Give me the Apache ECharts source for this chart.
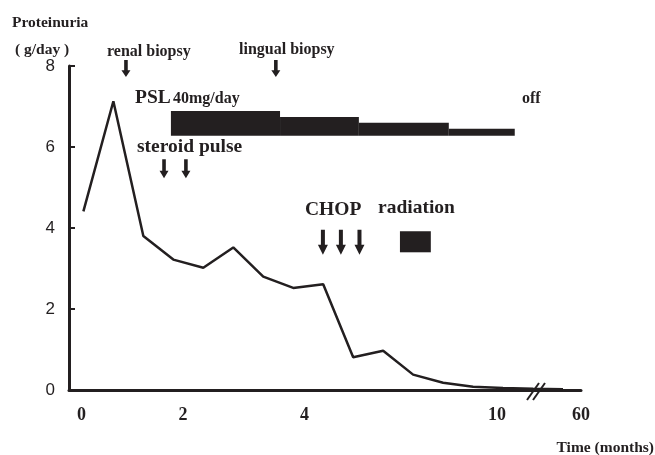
<!DOCTYPE html>
<html>
<head>
<meta charset="utf-8">
<script src="https://cdn.jsdelivr.net/npm/echarts@6/dist/echarts.min.js"></script>
<style>html,body{margin:0;padding:0;background:#fff}#c{width:655px;height:455px}</style>
</head>
<body>
<div id="c"></div>
<script>
// Proteinuria (g/day) at successive visits (index positions on the x scale)
const proteinuria = [4.41, 7.13, 3.80, 3.22, 3.02, 3.52, 2.80, 2.52, 2.61, 0.81, 0.97, 0.38, 0.18, 0.08, 0.05, 0.03, 0.02];
// x-axis tick labels (months) and their positions on the index scale
const xTickPos = [-0.06, 3.32, 7.38, 13.8, 16.6];
const xTickLabels = ['0', '2', '4', '10', '60'];
const yTicks = [0, 2, 4, 6, 8];
// PSL taper blocks: start, end, top (bottom shared)
const pslStart = [2.92, 6.56, 9.19, 12.19];
const pslEnd = [6.56, 9.19, 12.19, 14.39];
const pslTop = [6.89, 6.74, 6.60, 6.45];
const pslBottom = 6.28;
// radiation block
const radStart = 10.56, radEnd = 11.59, radTop = 3.92, radBottom = 3.40;
// event arrows
const arrowX = [1.42, 6.42, 2.69, 3.42, 7.99, 8.59, 9.21];
const arrowY = [7.94, 7.94, 5.46, 5.46, 3.65, 3.65, 3.65];

const ink = '#231f20';
const serif = '"Liberation Serif", "Times New Roman", serif';
const chart = echarts.init(document.getElementById('c'));
const arrowPath = 'path://M3,0 L7,0 L7,12 L10,12 L5,20 L0,12 L3,12 Z';
const arrowSizes = [[9,17],[9,17],[9,19],[9,19],[10,25],[10,25],[10,25]];

function txt(x, y, s, size, align) {
  return { type: 'text', x: x, y: y, style: { text: s, font: 'bold ' + size + 'px ' + serif, fill: ink, textAlign: align || 'left', textVerticalAlign: 'middle' } };
}

const blocks = pslStart.map((s, i) => [s, pslEnd[i], pslTop[i], pslBottom]);
blocks.push([radStart, radEnd, radTop, radBottom]);

chart.setOption({
  animation: false,
  grid: { left: 69, right: 74, top: 66, bottom: 65 },
  xAxis: {
    type: 'value', min: -0.48, max: 16.6,
    axisLine: { show: true, onZero: false, lineStyle: { color: ink, width: 3 } },
    axisTick: { show: false },
    splitLine: { show: false },
    axisLabel: {
      customValues: xTickPos,
      formatter: v => { const i = xTickPos.findIndex(p => Math.abs(p - v) < 1e-6); return i >= 0 ? xTickLabels[i] : ''; },
      fontFamily: serif, fontWeight: 'bold', fontSize: 18, color: ink, margin: 16
    }
  },
  yAxis: {
    type: 'value', min: 0, max: 8, interval: 2,
    axisLine: { show: true, onZero: false, lineStyle: { color: ink, width: 3 } },
    axisTick: { show: true, inside: true, length: 6, lineStyle: { color: ink, width: 2 } },
    splitLine: { show: false },
    axisLabel: { fontFamily: '"Liberation Sans", Arial, sans-serif', fontSize: 17, color: ink, margin: 14 }
  },
  series: [
    {
      type: 'line',
      data: proteinuria.map((v, i) => [i, v]),
      symbol: 'none',
      lineStyle: { color: ink, width: 2.5 },
      z: 3
    },
    {
      type: 'custom',
      data: blocks,
      renderItem: (params, api) => {
        const p1 = api.coord([api.value(0), api.value(2)]);
        const p2 = api.coord([api.value(1), api.value(3)]);
        return { type: 'rect', shape: { x: p1[0], y: p1[1], width: p2[0] - p1[0], height: p2[1] - p1[1] }, style: { fill: ink } };
      },
      z: 2
    },
    {
      type: 'scatter',
      data: arrowX.map((x, i) => [x, arrowY[i]]),
      symbol: arrowPath,
      symbolSize: (v, p) => arrowSizes[p.dataIndex],
      itemStyle: { color: ink, opacity: 1 },
      z: 4
    }
  ],
  graphic: [
    txt(12, 23, 'Proteinuria', 15.5),
    txt(15, 50, '( g/day )', 15.5),
    txt(107, 52, 'renal biopsy', 16),
    txt(239, 50, 'lingual biopsy', 16),
    txt(135, 98, 'PSL', 19.5),
    txt(173, 99, '40mg/day', 16),
    txt(522, 99, 'off', 16),
    txt(137, 147, 'steroid pulse', 19.5),
    txt(305, 210, 'CHOP', 19.5),
    txt(378, 208, 'radiation', 19.5),
    txt(654, 448, 'Time (months)', 15.5, 'right'),
    { type: 'line', shape: { x1: 527, y1: 400, x2: 539, y2: 383 }, style: { stroke: ink, lineWidth: 2 }, z: 10 },
    { type: 'line', shape: { x1: 533, y1: 400, x2: 545, y2: 383 }, style: { stroke: ink, lineWidth: 2 }, z: 10 }
  ]
});
</script>
</body>
</html>
